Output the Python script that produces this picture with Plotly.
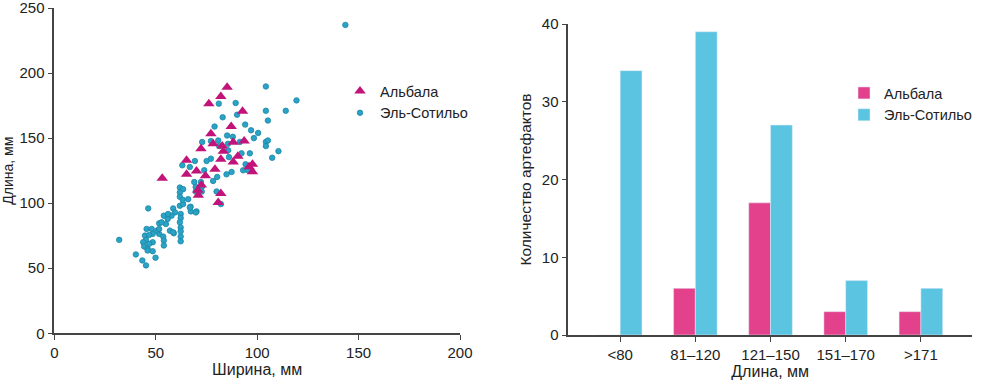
import plotly.graph_objects as go

# ---------- Scatter data (width, length in mm) ----------
albala_width = [85.2, 82.1, 76.2, 92.8, 87.2, 77.2, 72.3, 78.3, 88.2, 93.6, 82.8, 83.3,
                65.2, 82.1, 88.2, 97.7, 97.7, 79.2, 70.1, 65.2, 53.2, 82.1, 80.8,
                70.8, 72.5, 71.0, 90.5, 96.0, 74.5]
albala_length = [189, 182, 176.5, 170.6, 158.9, 153.3, 141.8, 145.6, 146.9, 147.7, 143.9, 140,
                 132.9, 133.7, 131.6, 129.9, 124.2, 126, 124.8, 122.2, 119.2, 107.4, 100.5,
                 110.0, 114.0, 106.0, 136.0, 128.0, 121.0]

sotillo_width = [143.5, 104.3, 119.4, 104.3, 114.1, 105.3, 94.1, 81.1, 89.4, 90.1, 79.0, 85.2,
                 98.4, 72.9, 77.2, 80.8, 81.3, 85.6, 91.5, 104.3, 105.3, 104.3, 110.5, 107.4,
                 92.3, 96.4, 85.7, 77.2, 75.1, 86.1, 69.3, 73.9, 63.1, 66.8, 94.3, 93.1,
                 95.4, 84.9, 87.4, 80.3, 78.3, 69.0, 72.3, 69.7, 72.7, 69.7, 72.7, 61.9,
                 63.5, 61.9, 61.9, 66.0, 80.0, 82.1, 46.3, 58.6, 61.9, 63.5, 67.2,
                 32.0, 63.3, 67.3, 70.1, 62.3, 62.3, 61.9, 59.5, 57.8, 54.0, 55.9, 51.7,
                 55.0, 62.3, 62.3, 62.3, 62.3, 57.0, 58.9, 51.7, 53.7, 54.0, 54.0, 45.5,
                 48.0, 48.5, 44.7, 46.8, 45.2, 48.5, 46.8, 43.8, 44.3, 46.0, 46.0, 48.5,
                 40.2, 43.4, 45.2, 49.9, 50.7, 51.7, 56.1, 52.9, 66.8, 69.8, 58.6, 100.5,
                 97.0, 88.0, 83.0]
sotillo_length = [237, 189.7, 179, 171, 171, 163.5, 160.4, 176.5, 177, 168, 158.9, 152,
                  150, 147, 147.7, 148.2, 143.9, 145.6, 147.1, 147.1, 148.2, 143.9, 140, 134.9,
                  138.3, 138.3, 140.6, 134.2, 132.4, 135.4, 132.4, 125.3, 129.1, 127.8, 129.9, 125.3,
                  125.3, 122.2, 124, 120.2, 117.1, 116.3, 116.3, 112.5, 112.5, 108.9, 108.9, 112,
                  110.8, 108.2, 104.9, 103.1, 109, 99.3, 96, 96, 98, 99.3, 97.3,
                  71.8, 102.6, 93.7, 93.7, 91.7, 88.6, 85.3, 92.9, 90.4, 90.4, 87.9, 84.5,
                  84, 81.4, 78.4, 74.3, 70.7, 78.9, 76.9, 76.4, 74.3, 71.3, 67.5, 80.2,
                  80.2, 76.4, 75.1, 75.6, 71.8, 70, 68.8, 70, 66.7, 64.9, 63.6, 63.1,
                  60.6, 56, 52.2, 58.1, 78.9, 80.2, 91.7, 85.3, 96.7, 92.9, 77.6, 154,
                  156, 151, 166]

# ---------- Bar data ----------
categories = ["<80", "81–120", "121–150", "151–170", ">171"]
albala_counts = [0, 6, 17, 3, 3]
sotillo_counts = [34, 39, 27, 7, 6]

FONT = "Liberation Sans, Arial, sans-serif"
W, H = 981, 384
MT, MB = 8, 49
PH = H - MT - MB
BOT = H - MB  # pixel row of paper y=0


def py(pix):
    """pixel row -> paper fraction"""
    return (BOT - pix) / PH


fig = go.Figure()

fig.add_trace(go.Scatter(
    x=sotillo_width, y=sotillo_length, mode="markers", name="Эль-Сотильо",
    marker=dict(symbol="circle", size=5.5, color="#2aa3c6",
                line=dict(color="#1b86a6", width=0.8)),
    xaxis="x", yaxis="y", legend="legend"))
fig.add_trace(go.Scatter(
    x=albala_width, y=albala_length, mode="markers", name="Альбала",
    marker=dict(symbol="triangle-up", size=10, color="#c2137a", line=dict(width=0)),
    xaxis="x", yaxis="y", legend="legend"))

fig.add_trace(go.Bar(
    x=categories, y=albala_counts, name="Альбала", marker_color="#e3418c",
    xaxis="x2", yaxis="y2", legend="legend2"))
fig.add_trace(go.Bar(
    x=categories, y=sotillo_counts, name="Эль-Сотильо", marker_color="#5bc4e1",
    xaxis="x2", yaxis="y2", legend="legend2"))

axis_common = dict(showgrid=False, zeroline=False, showline=True, linecolor="#444",
                   linewidth=1.5, ticks="outside", ticklen=5, tickcolor="#444", tickwidth=1.3,
                   automargin=False, ticklabeloverflow="allow",
                   tickfont=dict(family=FONT, size=15, color="#222"))

fig.update_layout(
    width=W, height=H,
    margin=dict(l=0, r=0, t=MT, b=MB, autoexpand=False),
    paper_bgcolor="white", plot_bgcolor="white",
    font=dict(family=FONT, size=14, color="#222"),
    barmode="group", bargap=0.42, bargroupgap=0,
    xaxis=dict(axis_common, domain=[54.3 / W, 460 / W], range=[0, 200],
               tickvals=[0, 50, 100, 150, 200], anchor="y",
               title=dict(text="Ширина, мм", font=dict(family=FONT, size=16), standoff=3)),
    yaxis=dict(axis_common, domain=[py(333.3), 1], range=[0, 250],
               tickvals=[0, 50, 100, 150, 200, 250], anchor="x",
               title=dict(text="Длина, мм", font=dict(family=FONT, size=14), standoff=6)),
    xaxis2=dict(axis_common, domain=[568.3 / W, 972 / W], range=[-0.69, 4.68],
                anchor="y2", type="category",
                title=dict(text="Длина, мм", font=dict(family=FONT, size=16), standoff=3)),
    yaxis2=dict(axis_common, domain=[0, py(24)], range=[0, 40],
                tickvals=[0, 10, 20, 30, 40], anchor="x2",
                title=dict(text="Количество артефактов", font=dict(family=FONT, size=15.5), standoff=6)),
    legend=dict(x=340 / W, y=py(75), xanchor="left", yanchor="top",
                bgcolor="rgba(0,0,0,0)", font=dict(family=FONT, size=14.5, color="#222"),
                traceorder="reversed", tracegroupgap=0, itemwidth=30),
    legend2=dict(x=844 / W, y=py(77), xanchor="left", yanchor="top",
                 bgcolor="rgba(0,0,0,0)", font=dict(family=FONT, size=14.5, color="#222"),
                 tracegroupgap=0),
    showlegend=True,
)

fig.write_html("out.html", config={"displayModeBar": False},
               post_script="document.body.style.margin='0';")
